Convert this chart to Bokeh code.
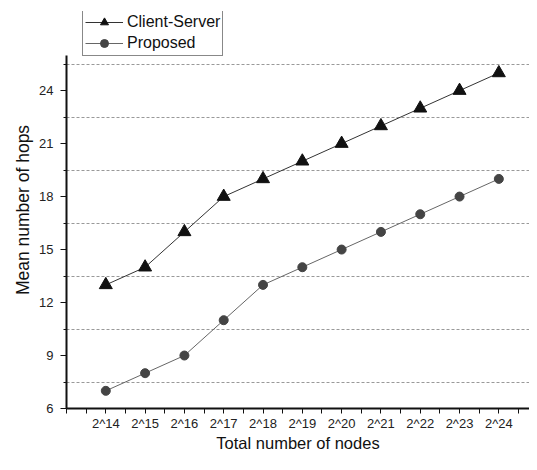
from bokeh.plotting import figure
from bokeh.models import FixedTicker, Legend, LegendItem
from bokeh.embed import file_html
from bokeh.resources import INLINE

exponents = [14, 15, 16, 17, 18, 19, 20, 21, 22, 23, 24]
categories = ["2^%d" % e for e in exponents]
client_server = [13, 14, 16, 18, 19, 20, 21, 22, 23, 24, 25]
proposed = [7, 8, 9, 11, 13, 14, 15, 16, 17, 18, 19]
y_ticks = [6, 9, 12, 15, 18, 21, 24]
grid_levels = [7.5, 10.5, 13.5, 16.5, 19.5, 22.5, 25.5]

FONT = "Liberation Sans"

p = figure(width=529, height=454, output_backend="svg", toolbar_location=None,
           x_range=(13, 24.78), y_range=(6, 28.48),
           min_border_left=66, min_border_top=11, min_border_bottom=41, min_border_right=0)
p.outline_line_color = None
p.background_fill_color = "white"
p.border_fill_color = "white"

cs_line = p.line(exponents, client_server, line_color="#333333", line_width=1)
cs_mark = p.scatter(exponents, client_server, marker="triangle", size=13,
                    fill_color="#111111", line_color="#111111")
pr_line = p.line(exponents, proposed, line_color="#666666", line_width=1)
pr_mark = p.scatter(exponents, proposed, marker="circle", size=9,
                    fill_color="#444444", line_color="#444444")

p.xgrid.visible = False
p.ygrid.ticker = FixedTicker(ticks=grid_levels)
p.ygrid.grid_line_color = "#999999"
p.ygrid.grid_line_dash = "3 2"
p.ygrid.grid_line_width = 1

p.xaxis.ticker = FixedTicker(ticks=exponents + [13], minor_ticks=[e + 0.5 for e in [13] + exponents])
p.xaxis.major_label_overrides = {e: c for e, c in zip(exponents, categories)}
p.xaxis.major_label_overrides[13] = ""
p.yaxis.ticker = FixedTicker(ticks=y_ticks, minor_ticks=grid_levels)
p.yaxis.bounds = (6, 26)

for ax in (p.xaxis[0], p.yaxis[0]):
    ax.axis_line_color = "#111111"
    ax.axis_line_width = 2
    ax.major_tick_line_color = "#111111"
    ax.minor_tick_line_color = "#111111"
    ax.major_tick_in = 0
    ax.major_tick_out = 6
    ax.minor_tick_in = 0
    ax.major_label_text_font = FONT
    ax.major_label_text_font_size = "13px"
    ax.major_label_text_color = "#222222"
    ax.axis_label_text_font = FONT
    ax.axis_label_text_font_style = "normal"
    ax.axis_label_text_color = "#111111"

p.xaxis.axis_label_text_font_size = "16.5px"
p.yaxis.axis_label_text_font_size = "17.5px"
p.xaxis.major_label_text_line_height = 1.0
p.xaxis.axis_label_text_line_height = 0.9
p.xaxis.minor_tick_out = 5
p.yaxis.minor_tick_out = 3
p.xaxis.major_tick_out = 5
p.xaxis.major_label_standoff = 2
p.yaxis.major_label_standoff = 7
p.xaxis.axis_label = "Total number of nodes"
p.yaxis.axis_label = "Mean number of hops"
p.xaxis.axis_label_standoff = 0
p.yaxis.axis_label_standoff = 3

legend = Legend(items=[
    LegendItem(label="Client-Server", renderers=[cs_line, cs_mark]),
    LegendItem(label="Proposed", renderers=[pr_line, pr_mark]),
], location=(16, 352))
legend.label_text_font = FONT
legend.label_text_font_size = "16px"
legend.label_text_color = "#111111"
legend.border_line_color = "#111111"
legend.border_line_width = 1
legend.background_fill_alpha = 1
legend.glyph_width = 38
legend.glyph_height = 20
legend.label_height = 20
legend.label_standoff = 4
legend.padding = 2
legend.spacing = 1
legend.margin = 0
p.add_layout(legend)

open("out.html", "w").write(file_html(p, INLINE))
